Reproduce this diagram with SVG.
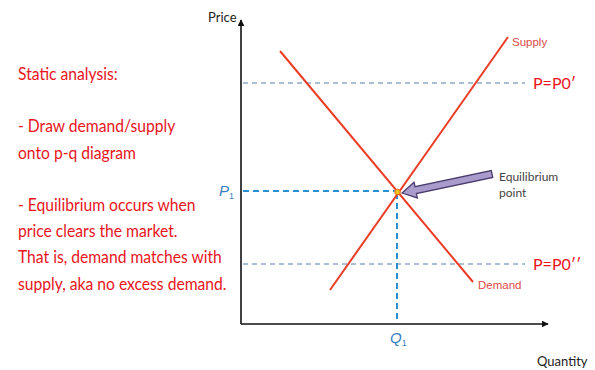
<svg xmlns="http://www.w3.org/2000/svg" width="595" height="370" viewBox="0 0 595 370">
<style>
.note{font-family:Lato,"Liberation Sans",sans-serif;font-size:18px;fill:#e8141c}
.axl{font-family:Lato,"Liberation Sans",sans-serif;font-size:13px;fill:#222}
.curve{stroke:#ea3d25;stroke-width:2;fill:none}
.clab{font-family:"Liberation Sans",Arial,sans-serif;font-size:11.5px;fill:#de4a45}
.plab{font-family:Lato,"Liberation Sans",sans-serif;font-size:16px;fill:#e8141c}
.guide{stroke:#5a7fa8;stroke-width:1;stroke-dasharray:5,4;fill:none}
.eq{stroke:#2a8fd0;stroke-width:2;stroke-dasharray:6,4;fill:none}
.blab{font-family:"Liberation Sans",Arial,sans-serif;font-style:italic;fill:#3a7fc0}
</style>
<defs>
<marker id="ah" viewBox="0 0 10 10" refX="9" refY="5" markerWidth="7" markerHeight="7" orient="auto" markerUnits="userSpaceOnUse">
<path d="M0,0 L10,5 L0,10 z" fill="#111"/>
</marker>
</defs>
<rect width="595" height="370" fill="#fff"/>
<g id="notes" transform="scale(0.87,1)">
<text class="note" x="20.7" y="80">Static analysis:</text>
<text class="note" x="20.7" y="132">- Draw demand/supply</text>
<text class="note" x="20.7" y="159">onto p-q diagram</text>
<text class="note" x="20.7" y="211">- Equilibrium occurs when</text>
<text class="note" x="20.7" y="237">price clears the market.</text>
<text class="note" x="20.7" y="263">That is, demand matches with</text>
<text class="note" x="20.7" y="290">supply, aka no excess demand.</text>
</g>
<g id="axes">
<line x1="241" y1="324" x2="241" y2="20" stroke="#111" stroke-width="1.6" marker-end="url(#ah)"/>
<line x1="241" y1="324" x2="548" y2="324" stroke="#111" stroke-width="1.6" marker-end="url(#ah)"/>
<text class="axl" x="208" y="22">Price</text>
<text class="axl" x="537" y="366">Quantity</text>
</g>
<g id="connectors">
<line class="guide" x1="243" y1="83" x2="525" y2="83"/>
<line class="guide" x1="243" y1="264" x2="525" y2="264"/>
<line class="eq" x1="243" y1="191" x2="397" y2="191"/>
<line class="eq" x1="397" y1="193" x2="397" y2="322"/>
</g>
<g id="supply">
<line class="curve" x1="330" y1="290" x2="508" y2="37"/>
<text class="clab" x="512" y="46">Supply</text>
</g>
<g id="demand">
<line class="curve" x1="280" y1="51" x2="473" y2="282"/>
<text class="clab" x="478" y="289">Demand</text>
</g>
<g id="p0prime">
<text class="plab" x="533" y="89">P=P0′</text>
</g>
<g id="p0dprime">
<text class="plab" x="533" y="270">P=P0′′</text>
</g>
<g id="p1">
<text class="blab" x="219" y="196" font-size="15">P<tspan font-size="9" font-style="normal" dy="3">1</tspan></text>
</g>
<g id="q1">
<text class="blab" x="390" y="343" font-size="15">Q<tspan font-size="9" font-style="normal" dy="3">1</tspan></text>
</g>
<g id="equilibrium">
<circle cx="397.5" cy="192" r="2.8" fill="#f5c518" stroke="#e86a20" stroke-width="1"/>
<path transform="translate(402,193) rotate(168.1)" d="M0,0 L-14,-8 L-14,-3.5 L-92,-3.5 L-92,3.5 L-14,3.5 L-14,8 Z" fill="#a99bcc" stroke="#4b3e6e" stroke-width="1.3" stroke-linejoin="miter"/>
<text class="axl" x="499" y="181" style="font-size:12px;fill:#444">Equilibrium</text>
<text class="axl" x="499" y="197" style="font-size:12px;fill:#444">point</text>
</g>
</svg>
